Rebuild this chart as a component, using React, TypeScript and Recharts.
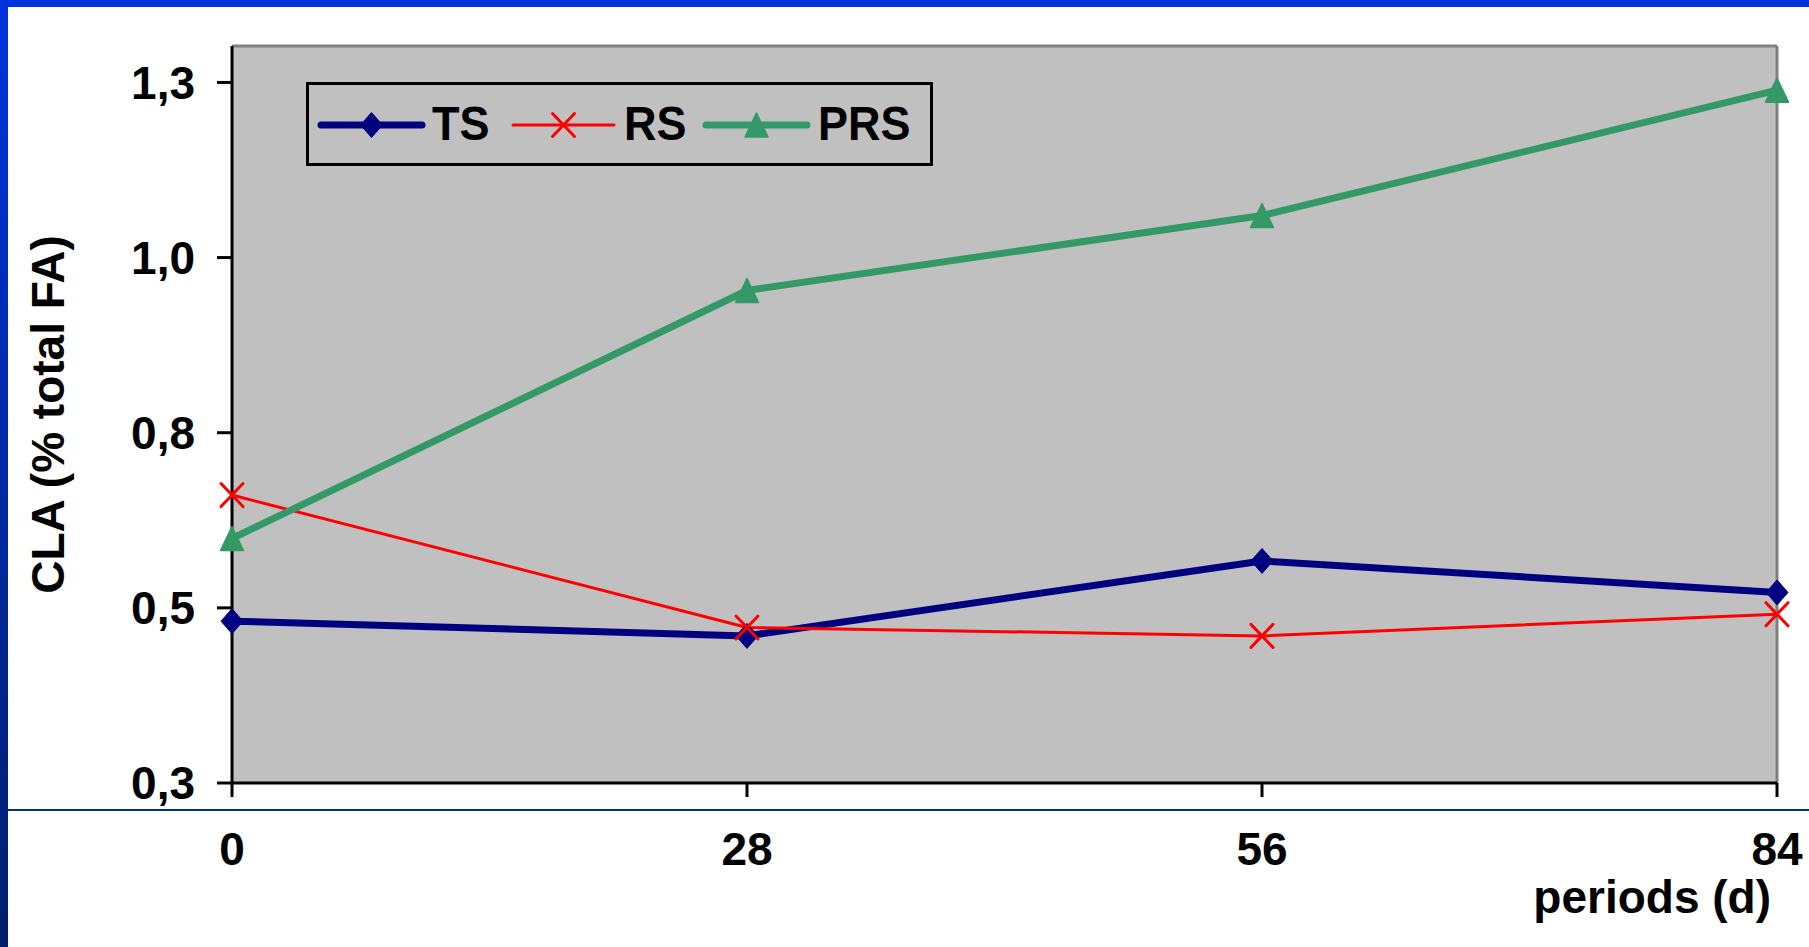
import React from 'react';
import { LineChart, Line, XAxis, YAxis, CartesianGrid, ReferenceLine, Legend } from 'recharts';

const days = [0, 28, 56, 84];
const tsValues = [0.531, 0.510, 0.617, 0.572];
const rsValues = [0.711, 0.522, 0.510, 0.541];
const prsValues = [0.649, 1.003, 1.110, 1.289];
const seriesNames = ['TS', 'RS', 'PRS'];
const yTickValues = [0.3, 0.55, 0.8, 1.05, 1.3];
const yTickLabels = ['0,3', '0,5', '0,8', '1,0', '1,3'];
const xTickValues = [0, 28, 56, 84];
const yDomain = [0.3, 1.352];
const xDomain = [0, 84];

const data = days.map((d, i) => ({ day: d, TS: tsValues[i], RS: rsValues[i], PRS: prsValues[i] }));

const FONT = '"Liberation Sans", Arial, Helvetica, sans-serif';
const NAVY = '#000080';
const RED = '#ff0000';
const GREEN = '#339966';

const Diamond = ({ cx, cy }: any) => (
  <path d={`M${cx},${cy - 12.5} L${cx + 11},${cy} L${cx},${cy + 12.5} L${cx - 11},${cy} Z`} fill={NAVY} stroke={NAVY} strokeWidth={1} strokeLinejoin="round" />
);
const Cross = ({ cx, cy }: any) => (
  <g stroke={RED} strokeWidth={3} strokeLinecap="round">
    <line x1={cx - 11} y1={cy - 11.5} x2={cx + 11} y2={cy + 11.5} />
    <line x1={cx - 11} y1={cy + 11.5} x2={cx + 11} y2={cy - 11.5} />
  </g>
);
const Triangle = ({ cx, cy }: any) => (
  <path d={`M${cx},${cy - 12} L${cx + 11.5},${cy + 12} L${cx - 11.5},${cy + 12} Z`} fill={GREEN} stroke={GREEN} strokeWidth={1.5} strokeLinejoin="round" />
);

const markers: any = { TS: Diamond, RS: Cross, PRS: Triangle };
const colors: any = { TS: NAVY, RS: RED, PRS: GREEN };
const widths: any = { TS: 7, RS: 3, PRS: 7 };

const legendIconX = [15, 207, 400];
const legendTextX = [126, 318, 512];
const LEGEND_ICON_LEN = 101;

const renderLegend = () => (
  <svg width={627} height={84} style={{ display: 'block' }}>
    <rect x={1.5} y={1.5} width={624} height={81} fill="#c0c0c0" stroke="#000" strokeWidth={3} />
    {seriesNames.map((n, i) => {
      const M = markers[n];
      const x0 = legendIconX[i];
      return (
        <g key={n}>
          <line x1={x0} y1={43} x2={x0 + LEGEND_ICON_LEN} y2={43} stroke={colors[n]} strokeWidth={widths[n]} strokeLinecap="round" />
          <M cx={x0 + LEGEND_ICON_LEN / 2} cy={43} />
          <text transform={`translate(${legendTextX[i]}, 58) scale(1, 1.08)`} fontFamily={FONT} fontWeight="bold" fontSize={45} fill="#000">{n}</text>
        </g>
      );
    })}
  </svg>
);

const yFmt = (v: number) => {
  let best = 0;
  yTickValues.forEach((t, i) => { if (Math.abs(t - v) < Math.abs(yTickValues[best] - v)) best = i; });
  return yTickLabels[best];
};

export default function App() {
  return (
    <div style={{ position: 'absolute', left: 0, top: 0, width: 1809, height: 947, background: '#fff', overflow: 'hidden' }}>
      <div style={{ position: 'absolute', left: 0, top: 0, width: 1809, height: 7, background: '#0033dd' }} />
      <div style={{ position: 'absolute', left: 0, top: 0, width: 8, height: 947, background: 'linear-gradient(#0033dd, #001f6b)' }} />
      <div style={{ position: 'absolute', left: 8, top: 809, width: 1801, height: 2, background: '#00308f' }} />
      <div style={{ position: 'absolute', left: 0, top: 0 }}>
        <LineChart width={1809} height={947} data={data} margin={{ top: 46, right: 32, bottom: 64, left: 82 }}>
          <CartesianGrid fill="#c0c0c0" horizontal={false} vertical={false} stroke="none" />
          <ReferenceLine y={yDomain[1]} stroke="#808080" strokeWidth={3} />
          <ReferenceLine x={xDomain[1]} stroke="#808080" strokeWidth={3} />
          <XAxis
            type="number"
            dataKey="day"
            domain={xDomain}
            ticks={xTickValues}
            height={100}
            tickSize={14}
            tickMargin={35}
            axisLine={{ stroke: '#000', strokeWidth: 3 }}
            tickLine={{ stroke: '#000', strokeWidth: 3 }}
            tick={{ fontSize: 46, fontWeight: 'bold', fill: '#000', fontFamily: FONT }}
            label={{
              content: ({ viewBox }: any) => (
                <text x={viewBox.x + viewBox.width - 6} y={viewBox.y + 130} textAnchor="end" fontFamily={FONT} fontWeight="bold" fontSize={46} fill="#000">periods (d)</text>
              ),
            }}
          />
          <YAxis
            type="number"
            domain={yDomain}
            ticks={yTickValues}
            width={150}
            tickSize={15}
            tickMargin={22}
            tickFormatter={yFmt}
            axisLine={{ stroke: '#000', strokeWidth: 3 }}
            tickLine={{ stroke: '#000', strokeWidth: 3 }}
            tick={{ fontSize: 46, fontWeight: 'bold', fill: '#000', fontFamily: FONT }}
            label={{
              content: ({ viewBox }: any) => {
                const x = viewBox.x - 34;
                const y = viewBox.y + viewBox.height / 2;
                return (
                  <text x={x} y={y} transform={`rotate(-90, ${x}, ${y})`} textAnchor="middle" dominantBaseline="central" fontFamily={FONT} fontWeight="bold" fontSize={46} fill="#000">CLA (% total FA)</text>
                );
              },
            }}
          />
          <Legend
            layout="horizontal"
            verticalAlign="middle"
            align="center"
            content={renderLegend}
            wrapperStyle={{ position: 'absolute', left: 306, top: 82, width: 627, height: 84 }}
          />
          {seriesNames.map((n) => {
            const M = markers[n];
            return (
              <Line
                key={n}
                type="linear"
                dataKey={n}
                stroke={colors[n]}
                strokeWidth={widths[n]}
                strokeLinejoin="round"
                isAnimationActive={false}
                dot={(p: any) => <M key={`${n}-${p.index}`} cx={p.cx} cy={p.cy} />}
                activeDot={false}
              />
            );
          })}
        </LineChart>
      </div>
    </div>
  );
}
